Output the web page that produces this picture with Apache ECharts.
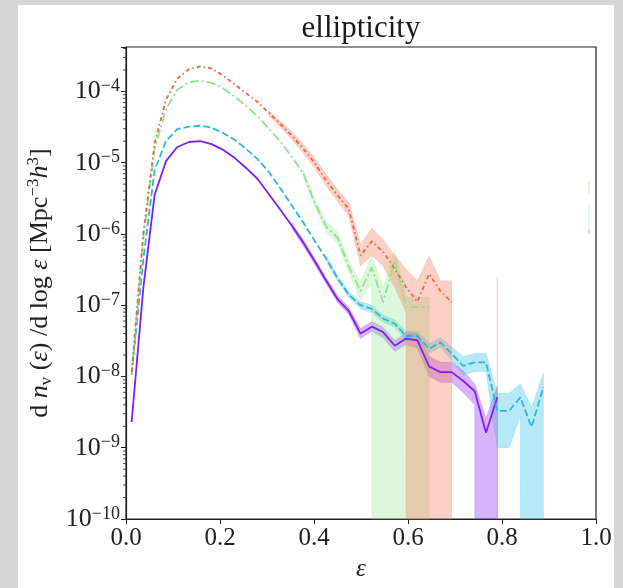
<!DOCTYPE html>
<html><head><meta charset="utf-8">
<script src="https://cdn.jsdelivr.net/npm/echarts@6/dist/echarts.min.js"></script>
<style>html,body{margin:0;padding:0;background:#d6d6d6}#c{width:623px;height:588px}</style>
</head><body><div id="c"></div>
<script>
// bin centres (ellipticity)
const xs = [0.012,0.037,0.061,0.085,0.109,0.134,0.158,0.182,0.207,0.231,0.255,0.280,0.304,0.328,0.353,0.377,0.401,0.426,0.450,0.474,0.499,0.523,0.547,0.572,0.596,0.620,0.645,0.669,0.693,0.717,0.742,0.766,0.790,0.815,0.839,0.863,0.888,0.912,0.936,0.961,0.985];
const xTicks = [0, 0.2, 0.4, 0.6, 0.8, 1.0];
const yTickExps = [-10,-9,-8,-7,-6,-5,-4];

const purple = [2.3e-9,1.78e-7,3.55e-6,1.05e-5,1.66e-5,1.95e-5,2.0e-5,1.82e-5,1.51e-5,1.17e-5,8.5e-6,5.9e-6,3.6e-6,2.2e-6,1.3e-6,7.6e-7,4.2e-7,2.2e-7,1.22e-7,8.3e-8,4.0e-8,5.0e-8,4.2e-8,2.7e-8,3.4e-8,3.2e-8,1.38e-8,1.15e-8,1.15e-8,8.7e-9,6.2e-9,1.62e-9,5.1e-9,null,null,null,null,null,null,null,null];
const purpleHi = [null,null,null,null,null,null,null,null,null,null,null,null,null,null,1.42e-6,8.3e-7,4.6e-7,2.4e-7,1.37e-7,9.3e-8,4.7e-8,5.9e-8,4.9e-8,3.2e-8,4.1e-8,4.0e-8,1.9e-8,1.58e-8,1.58e-8,1.2e-8,7.9e-9,2.6e-9,7.4e-9,null,null,null,null,null,null,null,1.17e-6];
const purpleLo = [null,null,null,null,null,null,null,null,null,null,null,null,null,null,1.19e-6,6.9e-7,3.8e-7,2.0e-7,1.09e-7,7.4e-8,3.4e-8,4.3e-8,3.5e-8,2.24e-8,2.8e-8,2.5e-8,1.0e-8,8.3e-9,8.3e-9,6.0e-9,4.0e-9,0,0,null,null,null,null,null,null,null,1.0e-6];

const cyan = [1.05e-8,4.5e-7,7.9e-6,2.0e-5,2.95e-5,3.2e-5,3.3e-5,3.1e-5,2.6e-5,2.1e-5,1.58e-5,1.12e-5,7.4e-6,4.4e-6,2.5e-6,1.45e-6,8.1e-7,4.5e-7,2.4e-7,1.41e-7,1.0e-7,8.9e-8,6.5e-8,5.5e-8,3.7e-8,3.7e-8,2.45e-8,3.0e-8,2.1e-8,1.41e-8,1.58e-8,1.58e-8,3.3e-9,3.3e-9,5.1e-9,1.95e-9,7.1e-9,null,null,null,null];
const cyanHi = [null,null,null,null,null,null,null,null,null,null,null,null,null,null,null,null,null,4.9e-7,2.6e-7,1.55e-7,1.12e-7,1.0e-7,7.2e-8,6.2e-8,4.3e-8,4.3e-8,2.9e-8,3.5e-8,2.6e-8,1.9e-8,2.1e-8,2.1e-8,5.8e-9,5.8e-9,7.9e-9,3.7e-9,1.12e-8,null,null,null,null];
const cyanLo = [null,null,null,null,null,null,null,null,null,null,null,null,null,null,null,null,null,4.1e-7,2.2e-7,1.29e-7,8.9e-8,7.9e-8,5.8e-8,4.9e-8,3.2e-8,3.2e-8,2.1e-8,2.6e-8,1.66e-8,1.05e-8,1.17e-8,1.17e-8,1.0e-9,1.0e-9,2.8e-9,0,0,null,null,null,null];

const green = [1.05e-8,8.9e-7,1.58e-5,5.6e-5,1.05e-4,1.35e-4,1.41e-4,1.32e-4,1.1e-4,8.5e-5,6.3e-5,4.5e-5,3.0e-5,2.0e-5,1.2e-5,7.1e-6,2.8e-6,1.26e-6,8.9e-7,3.5e-7,1.58e-7,3.4e-7,1.1e-7,4.2e-7,9.5e-8,9.5e-8,9.5e-8,null,null,null,null,null,null,null,null,null,null,null,null,null,null];
const greenHi = [null,null,null,null,null,null,null,null,null,null,null,null,null,null,null,7.8e-6,3.2e-6,1.48e-6,1.07e-6,4.2e-7,2.1e-7,5.0e-7,1.78e-7,6.2e-7,1.29e-7,1.29e-7,1.29e-7,null,null,null,null,null,null,null,null,null,null,null,null,null,2.6e-6];
const greenLo = [null,null,null,null,null,null,null,null,null,null,null,null,null,null,null,6.5e-6,2.45e-6,1.07e-6,7.4e-7,2.9e-7,1.2e-7,2.0e-7,0,0,0,0,0,null,null,null,null,null,null,null,null,null,null,null,null,null,1.2e-6];

const orange = [1.15e-8,1.05e-6,1.9e-5,7.6e-5,1.51e-4,2.05e-4,2.24e-4,2.1e-4,1.66e-4,1.26e-4,9.5e-5,7.1e-5,5.0e-5,3.5e-5,2.4e-5,1.58e-5,1.0e-5,5.6e-6,3.5e-6,2.24e-6,5.0e-7,7.9e-7,5.6e-7,3.2e-7,1.78e-7,1.12e-7,2.75e-7,1.58e-7,1.1e-7,null,null,null,null,null,null,null,null,null,null,null,null];
const orangeHi = [null,null,null,null,null,null,null,null,null,null,null,null,5.4e-5,3.8e-5,2.7e-5,1.82e-5,1.17e-5,6.8e-6,4.2e-6,2.8e-6,7.1e-7,1.2e-6,8.3e-7,5.0e-7,3.2e-7,2.2e-7,4.9e-7,2.2e-7,2.2e-7,null,null,null,2.5e-7,null,null,null,null,null,null,null,5.5e-6];
const orangeLo = [null,null,null,null,null,null,null,null,null,null,null,null,4.6e-5,3.2e-5,2.1e-5,1.38e-5,8.5e-6,4.7e-6,2.9e-6,1.78e-6,3.55e-7,5.0e-7,3.55e-7,1.78e-7,7.9e-8,0,0,0,0,null,null,null,0,null,null,null,null,null,null,null,3.7e-6];

const YMIN = 1e-10, YMAX = 4.2e-4;
const SERIF = "'Liberation Serif','DejaVu Serif',serif";

function clipBelow(pts, m) {
  const out = [];
  for (let i = 0; i < pts.length; i++) {
    const a = pts[i], b = pts[(i + 1) % pts.length];
    const ain = a[1] >= m, bin = b[1] >= m;
    if (ain) out.push(a);
    if (ain !== bin) { const t = (m - a[1]) / (b[1] - a[1]); out.push([a[0] + t * (b[0] - a[0]), m]); }
  }
  return out;
}

function bandSeries(hi, lo, fill, z) {
  return {
    type: 'custom', coordinateSystem: 'cartesian2d', silent: true, z: z, animation: false,
    data: [[0.5, 1e-6]],
    renderItem: function (params, api) {
      const children = [];
      const segs = []; let seg = [];
      for (let i = 0; i < xs.length; i++) {
        if (hi[i] == null) { if (seg.length) segs.push(seg); seg = []; } else seg.push(i);
      }
      if (seg.length) segs.push(seg);
      const LM = Math.log10(YMIN);
      segs.forEach(function (s) {
        if (s.length === 1) {
          const i = s[0];
          const a = api.coord([xs[i], hi[i]]);
          const b = api.coord([xs[i], lo[i] > 0 ? lo[i] : YMIN]);
          children.push({ type: 'line', shape: { x1: a[0], y1: a[1], x2: b[0], y2: b[1] }, style: { stroke: fill, lineWidth: 1.2 } });
          return;
        }
        let pts = [];
        s.forEach(function (i) { pts.push([xs[i], Math.log10(hi[i])]); });
        for (let j = s.length - 1; j >= 0; j--) { const i = s[j]; pts.push([xs[i], lo[i] > 0 ? Math.log10(lo[i]) : -1000]); }
        pts = clipBelow(pts, LM);
        children.push({ type: 'polygon', shape: { points: pts.map(function (p) { return api.coord([p[0], Math.pow(10, p[1])]); }) }, style: { fill: fill, stroke: fill, lineWidth: 0.6 } });
      });
      return { type: 'group', children: children };
    }
  };
}

function lineSeries(vals, color, dash, z) {
  const data = [];
  vals.forEach(function (v, i) { if (v != null) data.push([xs[i], v]); });
  return { type: 'line', data: data, showSymbol: false, z: z, animation: false, silent: true,
    lineStyle: { color: color, width: 1.8, type: dash } };
}

// minor ticks on the log axis (2..9 x 10^n)
const minorTicks = [];
for (let e = -10; e <= -4; e++) for (let m = 2; m <= 9; m++) { const v = m * Math.pow(10, e); if (v < YMAX) minorTicks.push([0, v]); }

const chart = echarts.init(document.getElementById('c'), null, { renderer: 'canvas' });
chart.setOption({
  backgroundColor: '#d6d6d6',
  animation: false,
  graphic: [
    { type: 'rect', z: -10, shape: { x: 18, y: 5, width: 596, height: 583 }, style: { fill: '#ffffff' } },
    { type: 'text', z: 10, x: 361, y: 13, style: { text: 'ellipticity', fontFamily: SERIF, fontSize: 31, fill: '#1a1a1a', textAlign: 'center' } }
  ],
  grid: { left: 126, top: 47, right: 27, bottom: 69, show: true, borderColor: '#222', borderWidth: 1.2, backgroundColor: '#fff' },
  xAxis: {
    type: 'value', min: 0, max: 1, interval: 0.2,
    axisLine: { lineStyle: { color: '#222', width: 1.2 } },
    axisTick: { length: 5, lineStyle: { color: '#222' } },
    splitLine: { show: false },
    axisLabel: { formatter: function (v) { return v.toFixed(1); }, fontFamily: SERIF, fontSize: 25, color: '#222', margin: 7 },
    name: 'ε', nameLocation: 'middle', nameGap: 38,
    nameTextStyle: { fontFamily: SERIF, fontStyle: 'italic', fontSize: 25, color: '#222' }
  },
  yAxis: {
    type: 'log', logBase: 10, min: YMIN, max: YMAX,
    axisLine: { show: true, lineStyle: { color: '#222', width: 1.2 } },
    axisTick: { length: 5, lineStyle: { color: '#222' } },
    splitLine: { show: false },
    axisLabel: {
      margin: 6,
      formatter: function (v) {
        const e = Math.log10(v); const r = Math.round(e);
        if (Math.abs(e - r) > 1e-6 || yTickExps.indexOf(r) < 0) return '';
        return '{b|10}{s|−' + (-r) + '}';
      },
      rich: {
        b: { fontFamily: SERIF, fontSize: 26, color: '#222', lineHeight: 28 },
        s: { fontFamily: SERIF, fontSize: 18, color: '#222', verticalAlign: 'top', lineHeight: 14 }
      }
    },
    name: '{r|d }{i|n}{sub|v}{r| (}{i|ε}{r|) /d log }{i|ε}{r| [Mpc}{sup|−3}{i|h}{sup|3}{r|]}',
    nameLocation: 'middle', nameGap: 70, nameRotate: 90,
    nameTextStyle: {
      rich: {
        r: { fontFamily: SERIF, fontSize: 26, color: '#222', lineHeight: 30 },
        i: { fontFamily: SERIF, fontStyle: 'italic', fontSize: 26, color: '#222', lineHeight: 30 },
        sub: { fontFamily: SERIF, fontSize: 17, color: '#222', verticalAlign: 'bottom', lineHeight: 14 },
        sup: { fontFamily: SERIF, fontSize: 17, color: '#222', verticalAlign: 'top', lineHeight: 14 }
      }
    }
  },
  series: [
    bandSeries(purpleHi, purpleLo, 'rgba(140,40,240,0.35)', 1),
    bandSeries(cyanHi, cyanLo, 'rgba(50,190,225,0.35)', 1),
    bandSeries(greenHi, greenLo, 'rgba(140,230,140,0.3)', 1),
    bandSeries(orangeHi, orangeLo, 'rgba(245,120,90,0.35)', 1),
    lineSeries(purple, '#7f1ff5', 'solid', 3),
    lineSeries(cyan, '#2cb8db', [7, 3], 3),
    lineSeries(green, '#8ee48e', [9, 3, 2, 3], 3),
    lineSeries(orange, '#f0643c', [4, 3, 1.5, 3], 3),
    {
      type: 'custom', coordinateSystem: 'cartesian2d', silent: true, z: 5, animation: false, clip: false,
      data: minorTicks,
      renderItem: function (params, api) {
        const p = api.coord([api.value(0), api.value(1)]);
        return { type: 'line', shape: { x1: p[0] - 3, y1: p[1], x2: p[0], y2: p[1] }, style: { stroke: '#222', lineWidth: 0.8 } };
      }
    }
  ]
});
</script></body></html>
